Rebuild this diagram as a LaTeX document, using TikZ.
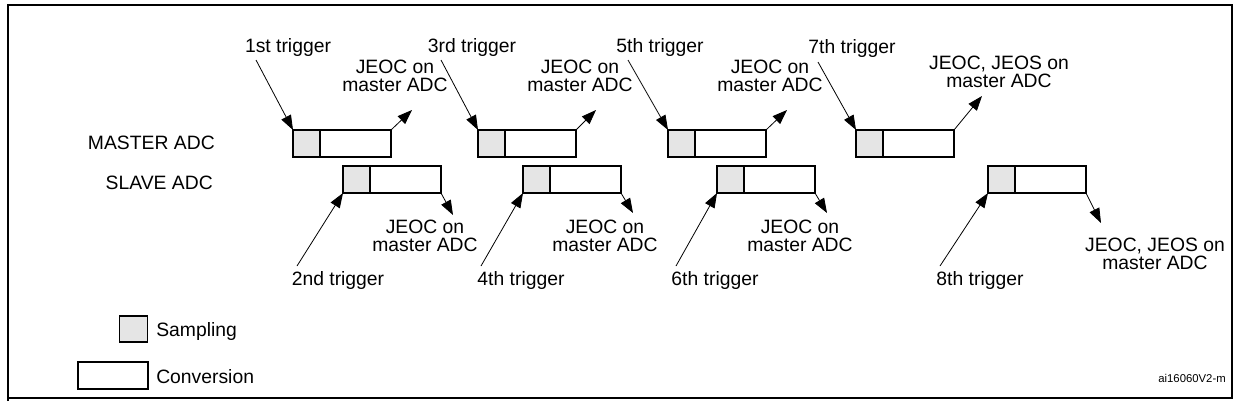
\documentclass[tikz,border=0pt]{standalone}
\usepackage{fontspec}
\setmainfont{Liberation Sans}
\usetikzlibrary{arrows.meta}
\begin{document}
\begin{tikzpicture}[x=0.75pt,y=-0.75pt,
  box/.style={draw,line width=1.3pt},
  samp/.style={draw,line width=1.3pt,fill=gray!20},
  lbl/.style={font=\fontsize{14.5}{14}\selectfont,inner sep=0pt,align=center},
  arr/.style={-{Triangle[length=11pt,width=8pt]},line width=0.6pt}]
\useasboundingbox (0,0) rectangle (1239,401);
\draw[line width=1.2pt] (8,401) -- (8,5) -- (1232,5) -- (1232,398) -- (8,398);
% labels
\node[lbl,anchor=east] (mlab) at (215,143) {MASTER ADC};
\node[lbl,anchor=east] (slab) at (213,183) {SLAVE ADC};
% master boxes
\foreach \n/\x in {1/293,2/478,3/668,4/856}{
  \draw[box] (\x,130) rectangle ++(98,27);
  \draw[samp] (\x,130) rectangle ++(27,27);
  \coordinate (m\n tl) at (\x,130);
  \coordinate (m\n tr) at ({\x+98},130);
}
\foreach \n/\x in {1/343,2/523,3/717,4/988}{
  \draw[box] (\x,166) rectangle ++(98,27);
  \draw[samp] (\x,166) rectangle ++(27,27);
  \coordinate (s\n bl) at (\x,193);
  \coordinate (s\n br) at ({\x+98},193);
}
% top triggers
\node[lbl] (t1) at (288,47) {1st trigger};
\node[lbl] (t3) at (472,47) {3rd trigger};
\node[lbl] (t5) at (660,47) {5th trigger};
\node[lbl] (t7) at (852,48) {7th trigger};
\coordinate (t1a) at (256,60); \coordinate (t3a) at (441,60);
\coordinate (t5a) at (628,60); \coordinate (t7a) at (818,62);
\draw[arr] (t1a) -- (m1tl); \draw[arr] (t3a) -- (m2tl);
\draw[arr] (t5a) -- (m3tl); \draw[arr] (t7a) -- (m4tl);
% master JEOC
\node[lbl] (j1) at (395,76) {JEOC on\\master ADC};
\node[lbl] (j2) at (580,76) {JEOC on\\master ADC};
\node[lbl] (j3) at (770,76) {JEOC on\\master ADC};
\node[lbl] (j4) at (999,72) {JEOC, JEOS on\\master ADC};
\coordinate (j1a) at (412,110); \coordinate (j2a) at (596,110);
\coordinate (j3a) at (787,110); \coordinate (j4a) at (982,96);
\draw[arr] (m1tr) -- (j1a); \draw[arr] (m2tr) -- (j2a);
\draw[arr] (m3tr) -- (j3a); \draw[arr] (m4tr) -- (j4a);
% bottom triggers
\node[lbl] (t2) at (338,280) {2nd trigger};
\node[lbl] (t4) at (521,280) {4th trigger};
\node[lbl] (t6) at (715,280) {6th trigger};
\node[lbl] (t8) at (980,280) {8th trigger};
\coordinate (t2a) at (297,266); \coordinate (t4a) at (481,266);
\coordinate (t6a) at (676,266); \coordinate (t8a) at (940,266);
\draw[arr] (t2a) -- (s1bl); \draw[arr] (t4a) -- (s2bl);
\draw[arr] (t6a) -- (s3bl); \draw[arr] (t8a) -- (s4bl);
% slave JEOC
\node[lbl] (k1) at (425,236) {JEOC on\\master ADC};
\node[lbl] (k2) at (605,236) {JEOC on\\master ADC};
\node[lbl] (k3) at (800,236) {JEOC on\\master ADC};
\node[lbl] (k4) at (1155,254) {JEOC, JEOS on\\master ADC};
\coordinate (k1a) at (453,215); \coordinate (k2a) at (633,213);
\coordinate (k3a) at (827,213); \coordinate (k4a) at (1101,223);
\draw[arr] (s1br) -- (k1a); \draw[arr] (s2br) -- (k2a);
\draw[arr] (s3br) -- (k3a); \draw[arr] (s4br) -- (k4a);
% legend
\node[samp,minimum width=21pt,minimum height=20pt,inner sep=0pt] (ls) at (133.5,329) {};
\node[lbl,anchor=west] (lst) at (156,331) {Sampling};
\node[box,minimum width=52pt,minimum height=20pt,inner sep=0pt] (lc) at (113,375.5) {};
\node[lbl,anchor=west] (lct) at (156,377) {Conversion};
\node[inner sep=0pt,anchor=east,font=\fontsize{8.5}{9}\selectfont] (id) at (1226,378) {ai16060V2-m};
\end{tikzpicture}
\end{document}
